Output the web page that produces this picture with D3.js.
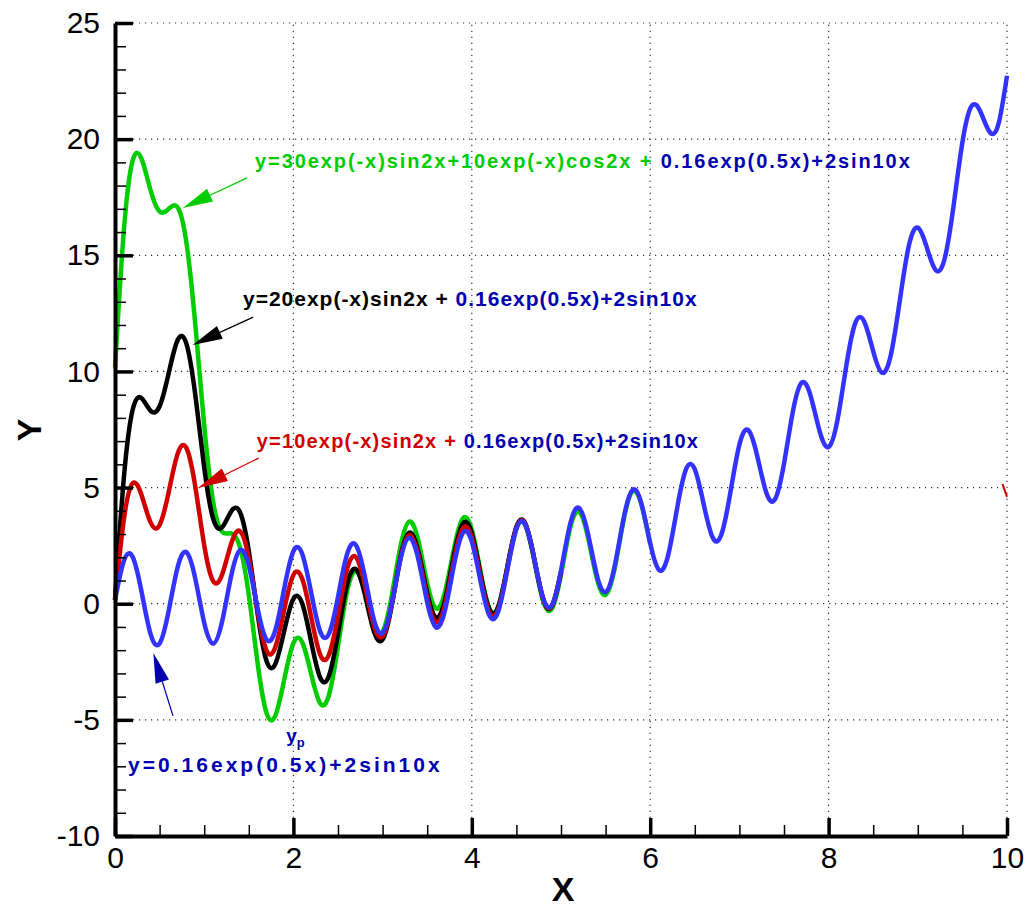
<!DOCTYPE html>
<html lang="en">
<head>
    <meta charset="UTF-8">
    <title>Curves</title>
    <style>
        body { margin: 0; background: #fff; }
        svg { display: block; font-family: "Liberation Sans", Arial, sans-serif; }
        .grid line { stroke: #333; stroke-width: 1.2; stroke-dasharray: 1.2,4.8; }
        .axis text { font-size: 30px; fill: #000; }
        .note { font-weight: bold; }
    </style>
</head>
<body>
    <svg id="chart" width="1026" height="908"></svg>

    <script src="https://d3js.org/d3.v7.min.js"></script>
    <script>
        // valores, x de 0 a 10 a cada 0.1
        const xStep = 0.1;

        const blueY = [0.16, 1.85, 2.00, 0.47, -1.32, -1.71, -0.34, 1.54, 2.22, 1.08,
            -0.82, -1.72, -0.78, 1.15, 2.30, 1.64, -0.22, -1.55, -1.11, 0.71,
            2.26, 2.13, 0.46, -1.19, -1.28, 0.29, 2.11, 2.53, 1.19, -0.65,
            -1.26, -0.05, 1.90, 2.83, 1.93, 0.06, -1.02, -0.27, 1.66, 3.05,
            2.67, 0.93, -0.53, -0.29, 1.48, 3.22, 3.40, 1.93, 0.23, -0.05,
            1.42, 3.39, 4.13, 3.06, 1.26, 0.50, 1.59, 3.64, 4.89, 4.33,
            2.60, 1.45, 2.07, 4.07, 5.77, 5.78, 4.28, 2.85, 3.00, 4.81,
            6.85, 7.47, 6.36, 4.80, 4.50, 6.03, 8.28, 9.52, 8.93, 7.42,
            6.75, 7.92, 10.28, 12.09, 12.14, 10.87, 9.94, 10.75, 13.10, 15.42,
            16.19, 15.35, 14.36, 14.84, 17.10, 19.86, 21.41, 21.20, 20.34, 20.59,
            22.73];

        const redY = [0.16, 3.65, 5.19, 4.65, 3.49, 3.39, 4.77, 6.43, 6.71, 5.04,
            2.52, 0.97, 1.25, 2.55, 3.13, 1.96, -0.34, -2.02, -1.84, -0.20,
            1.24, 1.06, -0.59, -2.19, -2.18, -0.50, 1.45, 2.01, 0.81, -0.91,
            -1.40, -0.09, 1.95, 2.95, 2.10, 0.26, -0.80, -0.05, 1.88, 3.25,
            2.85, 1.09, -0.40, -0.19, 1.55, 3.27, 3.42, 1.93, 0.22, -0.08,
            1.38];

        const blackY = [0.16, 5.45, 8.38, 8.84, 8.30, 8.50, 9.89, 11.33, 11.20, 9.00,
            5.87, 3.66, 3.29, 3.96, 3.95, 2.27, -0.46, -2.48, -2.57, -1.12,
            0.21, 0.00, -1.65, -3.18, -3.09, -1.28, 0.80, 1.49, 0.42, -1.16,
            -1.54, -0.13, 2.00, 3.06, 2.26, 0.46, -0.59, 0.17, 2.09, 3.45,
            3.03, 1.24, -0.27, -0.09, 1.62, 3.31, 3.45, 1.94, 0.20, -0.11,
            1.35];

        const greenY = [10.16, 16.11, 19.11, 19.13, 17.78, 16.88, 16.99, 17.07, 15.56, 12.03,
            7.68, 4.39, 3.10, 3.03, 2.45, 0.38, -2.59, -4.72, -4.79, -3.22,
            -1.70, -1.67, -3.04, -4.29, -3.91, -1.84, 0.49, 1.40, 0.51, -0.93,
            -1.20, 0.29, 2.45, 3.53, 2.72, 0.88, -0.20, 0.51, 2.37, 3.67,
            3.19, 1.34, -0.22, -0.08, 1.60, 3.26, 3.37, 1.85, 0.11, -0.20,
            1.25, 3.22, 3.96, 2.90, 1.12, 0.38, 1.49, 3.56, 4.83, 4.29,
            2.58];

        // pequeno traco vermelho em x=10
        const redTailX = [9.95, 10.0];
        const redTailY = [5.15, 4.6];

        const xTicks = [0, 2, 4, 6, 8, 10];
        const yTicks = [-10, -5, 0, 5, 10, 15, 20, 25];

        const green = "#00cc00", red = "#d00000", blue = "#3333ff", navy = "#0000b0";

        // anotacoes: inicio/fim do texto e seta (em unidades dos eixos)
        const notes = [
            { x0: 1.57, x1: 8.91, y: 18.76, size: 20, parts: [["y=30exp(-x)sin2x+10exp(-x)cos2x + ", green], ["0.16exp(0.5x)+2sin10x", navy]] },
            { x0: 1.435, x1: 6.52, y: 12.82, size: 21, parts: [["y=20exp(-x)sin2x + ", "#000"], ["0.16exp(0.5x)+2sin10x", navy]] },
            { x0: 1.59, x1: 6.535, y: 6.7, size: 20, parts: [["y=10exp(-x)sin2x + ", red], ["0.16exp(0.5x)+2sin10x", navy]] },
            { x0: 0.146, x1: 3.64, y: -7.25, size: 21, parts: [["y=0.16exp(0.5x)+2sin10x", navy]] }
        ];
        const arrows = [
            { from: [1.48, 18.33], to: [0.76, 17.04], color: green },
            { from: [1.55, 12.34], to: [0.87, 11.14], color: "#000" },
            { from: [1.61, 6.27], to: [0.93, 4.98], color: red },
            { from: [0.65, -4.83], to: [0.43, -2.12], color: navy }
        ];

        const width = 1026, height = 908;
        const margin = { top: 23, right: 19, bottom: 72, left: 115 };

        const x = d3.scaleLinear().domain([0, 10]).range([margin.left, width - margin.right]);
        const y = d3.scaleLinear().domain([-10, 25]).range([height - margin.bottom, margin.top]);

        const svg = d3.select("#chart");

        // grade pontilhada
        const grid = svg.append("g").attr("class", "grid");
        grid.selectAll(".gx").data(xTicks.filter(d => d > 0)).enter().append("line")
            .attr("x1", d => x(d)).attr("x2", d => x(d))
            .attr("y1", y(-10)).attr("y2", y(25));
        grid.selectAll(".gy").data(yTicks.filter(d => d > -10)).enter().append("line")
            .attr("x1", x(0)).attr("x2", x(10))
            .attr("y1", d => y(d)).attr("y2", d => y(d));

        // curvas
        const line = d3.line()
            .x((d, i) => x(i * xStep))
            .y(d => y(d))
            .curve(d3.curveNatural);

        [[greenY, green], [blackY, "#000"], [redY, red], [blueY, blue]].forEach(([vals, c]) => {
            svg.append("path")
                .attr("d", line(vals))
                .attr("fill", "none")
                .attr("stroke", c)
                .attr("stroke-width", 4.5)
                .attr("stroke-linejoin", "round");
        });

        svg.append("path")
            .attr("d", d3.line().x((d, i) => x(redTailX[i])).y(d => y(d))(redTailY))
            .attr("stroke", red).attr("stroke-width", 2).attr("fill", "none");

        // eixos
        const xMinor = d3.range(0.5, 10, 0.5).filter(d => d % 2 !== 0);
        const yMinor = d3.range(-9, 25, 1).filter(d => d % 5 !== 0);

        const gx = svg.append("g").attr("class", "axis")
            .attr("transform", `translate(0,${y(-10)})`);
        gx.call(d3.axisBottom(x).tickValues(xMinor).tickSize(-11).tickFormat(""))
            .call(g => g.selectAll("line").attr("stroke-width", 1.5));
        gx.select(".domain").remove();
        const gx2 = svg.append("g").attr("class", "axis")
            .attr("transform", `translate(0,${y(-10)})`);
        gx2.call(d3.axisBottom(x).tickValues(xTicks).tickSizeInner(-18).tickSizeOuter(0).tickPadding(11).tickFormat(d => String(d)))
            .call(g => g.selectAll("line").attr("stroke-width", 3.5))
            .call(g => g.select(".domain").attr("stroke-width", 4))
            .call(g => g.selectAll("text").attr("font-size", 30).attr("font-family", "Liberation Sans, Arial"));

        const gy = svg.append("g").attr("class", "axis")
            .attr("transform", `translate(${x(0)},0)`);
        gy.call(d3.axisLeft(y).tickValues(yMinor).tickSize(-11).tickFormat(""))
            .call(g => g.selectAll("line").attr("stroke-width", 1.5));
        gy.select(".domain").remove();
        const gy2 = svg.append("g").attr("class", "axis")
            .attr("transform", `translate(${x(0)},0)`);
        gy2.call(d3.axisLeft(y).tickValues(yTicks).tickSizeInner(-18).tickSizeOuter(0).tickPadding(15).tickFormat(d => String(d)))
            .call(g => g.selectAll("line").attr("stroke-width", 3.5))
            .call(g => g.select(".domain").attr("stroke-width", 4))
            .call(g => g.selectAll("text").attr("font-size", 30).attr("font-family", "Liberation Sans, Arial"));

        // titulos dos eixos
        svg.append("text")
            .attr("x", x(5) + 2).attr("y", 901)
            .attr("text-anchor", "middle")
            .attr("font-size", 34).attr("font-weight", "bold")
            .text("X");
        svg.append("text")
            .attr("transform", "translate(41,430) rotate(-90)")
            .attr("text-anchor", "middle")
            .attr("font-size", 34).attr("font-weight", "bold")
            .text("Y");

        // setas
        arrows.forEach(a => {
            const x1 = x(a.from[0]), y1 = y(a.from[1]);
            const x2 = x(a.to[0]), y2 = y(a.to[1]);
            const len = Math.hypot(x2 - x1, y2 - y1);
            const ux = (x2 - x1) / len, uy = (y2 - y1) / len;
            const hl = 30, hw = 7;
            const bx = x2 - ux * hl, by = y2 - uy * hl;
            svg.append("line")
                .attr("x1", x1).attr("y1", y1).attr("x2", bx).attr("y2", by)
                .attr("stroke", a.color).attr("stroke-width", 1.3);
            svg.append("path")
                .attr("d", `M${x2},${y2}L${bx - uy * hw},${by + ux * hw}L${bx + uy * hw},${by - ux * hw}Z`)
                .attr("fill", a.color);
        });

        // textos das formulas
        notes.forEach(n => {
            const t = svg.append("text")
                .attr("class", "note")
                .attr("x", x(n.x0)).attr("y", y(n.y))
                .attr("font-size", n.size)
                .attr("textLength", x(n.x1) - x(n.x0))
                .attr("lengthAdjust", "spacing")
                .style("white-space", "pre");
            n.parts.forEach(p => t.append("tspan").attr("fill", p[1]).text(p[0]));
        });

        // y_p
        const yp = svg.append("text")
            .attr("x", x(1.92)).attr("y", y(-5.95))
            .attr("font-size", 19).attr("font-weight", "bold").attr("fill", navy);
        yp.append("tspan").text("y");
        yp.append("tspan").attr("dy", 5).attr("font-size", 13).text("p");
    </script>
</body>
</html>
